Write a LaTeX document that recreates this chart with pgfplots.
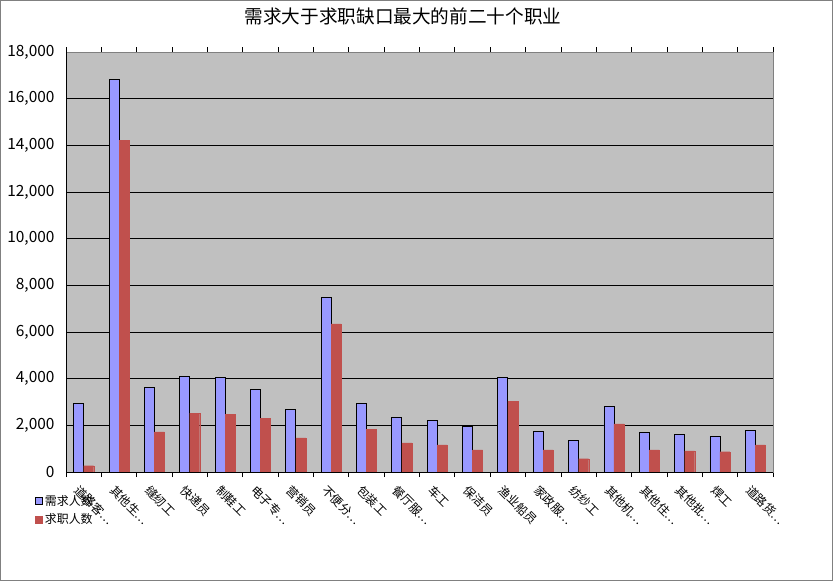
\documentclass[border=0pt]{standalone}
\usepackage{pgfplots}
\pgfplotsset{compat=1.18}
\usepackage{fontspec}
\setmainfont{Noto Sans CJK SC}

\definecolor{demand}{HTML}{9999FF}
\definecolor{supply}{HTML}{C0504D}
\definecolor{plotbg}{HTML}{C0C0C0}
\definecolor{frame}{HTML}{808080}

\pgfplotsset{
  sqlegend/.style={legend image code/.code={\draw[##1] (0bp,-3.5bp) rectangle (7bp,3.5bp);}},
}

\begin{document}
\begin{tikzpicture}
  \path[use as bounding box] (0,0) rectangle (835bp,-581bp);
  \draw[frame, line width=1bp] (0.5bp,-0.5bp) rectangle (832.7bp,-580bp);
  \node[font=\fontsize{18.7}{20}\selectfont] at (403bp,-16bp) {需求大于求职缺口最大的前二十个职业};

  \begin{axis}[
      at={(66bp,-472bp)}, anchor=south west,
      scale only axis, width=707bp, height=420bp,
      ybar=0pt, bar width=10bp,
      xmin=-0.5, xmax=19.5, ymin=0, ymax=18000,
      axis background/.style={fill=plotbg},
      axis line style={frame, line width=0.8bp},
      xtick={0,...,19},
      xticklabels={道路客…,其他生…,缝纫工,快递员,制鞋工,电子专…,营销员,不便分…,包装工,餐厅服…,
                   车工,保洁员,渔业船员,家政服…,纺纱工,其他机…,其他住…,其他批…,焊工,道路货…},
      major x tick style={draw=none},
      minor xtick={-0.5,0.5,...,19.5},
      minor tick length=5bp,
      minor x tick style={black, line width=0.8bp},
      xticklabel style={font=\fontsize{12}{14}\selectfont, rotate=-45, anchor=north west, yshift=-4bp, xshift=0bp},
      ytick={0,2000,...,18000},
      major y tick style={draw=none},
      ymajorgrids, major grid style={black, line width=0.8bp},
      yticklabel style={font=\fontsize{15.5}{17}\selectfont, xshift=-8bp},
      /pgf/number format/.cd, 1000 sep={,}, assume math mode=true, /pgfplots/.cd,
      scaled y ticks=false,
      legend style={at={(-0.044,-0.05)}, anchor=north west, draw=none, fill=none,
                    font=\fontsize{12}{14}\selectfont, row sep=3bp, inner sep=0pt,
                    cells={anchor=west}},
    ]
    \addplot[fill=demand, draw=black, line width=0.8bp, sqlegend]
      coordinates {(0,2940) (1,16810) (2,3620) (3,4090) (4,4040) (5,3530) (6,2680) (7,7490)
                   (8,2940) (9,2340) (10,2210) (11,1970) (12,4040) (13,1740) (14,1360)
                   (15,2810) (16,1700) (17,1620) (18,1530) (19,1790)};
    \addplot[fill=supply, draw=supply, line width=0.1bp, sqlegend]
      coordinates {(0,270) (1,14225) (2,1720) (3,2520) (4,2480) (5,2310) (6,1460) (7,6350)
                   (8,1840) (9,1250) (10,1160) (11,950) (12,3040) (13,950) (14,570)
                   (15,2060) (16,950) (17,910) (18,870) (19,1160)};
    \legend{需求人数,求职人数}
    \draw[black, line width=0.8bp] (rel axis cs:0,1) -- (rel axis cs:0,0) -- (rel axis cs:1,0);
  \end{axis}
\end{tikzpicture}
\end{document}
